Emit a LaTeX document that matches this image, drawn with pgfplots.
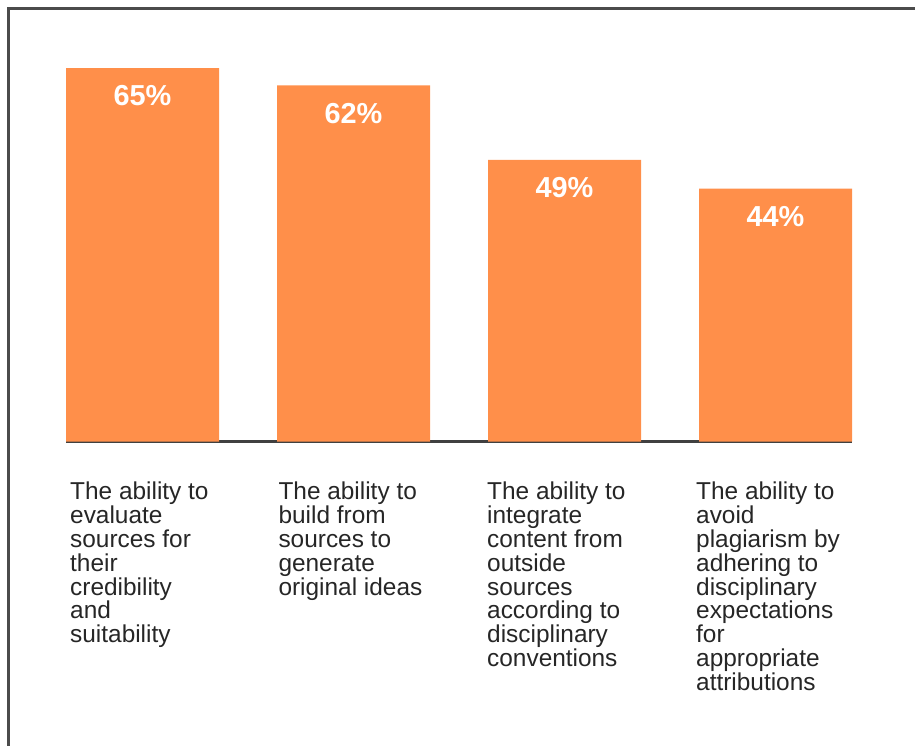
\documentclass[border=0pt]{standalone}
\usepackage{fontspec}
\setmainfont{Liberation Sans}
\usepackage{pgfplots}
\pgfplotsset{compat=1.18}
\definecolor{barorange}{RGB}{255,143,74}
\definecolor{framegray}{RGB}{75,75,75}
\definecolor{basegray}{RGB}{64,64,64}
\begin{document}
\begin{tikzpicture}
\useasboundingbox (-66bp,-304.5bp) rectangle (849bp,441.5bp);
\draw[line width=3bp, framegray] (-57bp,-320bp) -- (-57bp,432.5bp) -- (870bp,432.5bp);
\begin{axis}[
  at={(0,0)}, anchor=south west,
  scale only axis, width=786bp, height=402.2bp,
  xmin=-0.3626, xmax=3.3626, ymin=0, ymax=70,
  axis x line*=bottom, axis y line=none,
  x axis line style={line width=3bp, basegray, -},
  ytick=\empty,
  /pgf/number format/assume math mode=true,
  xtick={0,0.9873,1.9763,2.9668}, major tick length=0pt,
  xticklabels={
    {The ability to\\evaluate\\sources for\\their\\credibility\\and\\suitability},
    {The ability to\\build from\\sources to\\generate\\original ideas},
    {The ability to\\integrate\\content from\\outside\\sources\\according to\\disciplinary\\conventions},
    {The ability to\\avoid\\plagiarism by\\adhering to\\disciplinary\\expectations\\for\\appropriate\\attributions}},
  xticklabel style={anchor=north west, align=left, xshift=-72.5bp, yshift=-40bp, inner sep=0pt,
    font=\fontsize{24.5}{24}\selectfont, text=black!85},
  ybar, bar width=153bp,
  nodes near coords={\pgfmathprintnumber{\pgfplotspointmeta}\%},
  point meta=y,
  every node near coord/.append style={anchor=north, yshift=-17.5bp, inner sep=0pt,
    font=\bfseries\fontsize{29}{29}\selectfont, text=white},
]
\addplot[fill=barorange, draw=none] coordinates {(0,65) (1,62) (2,49) (3,44)};
\end{axis}
\end{tikzpicture}
\end{document}
